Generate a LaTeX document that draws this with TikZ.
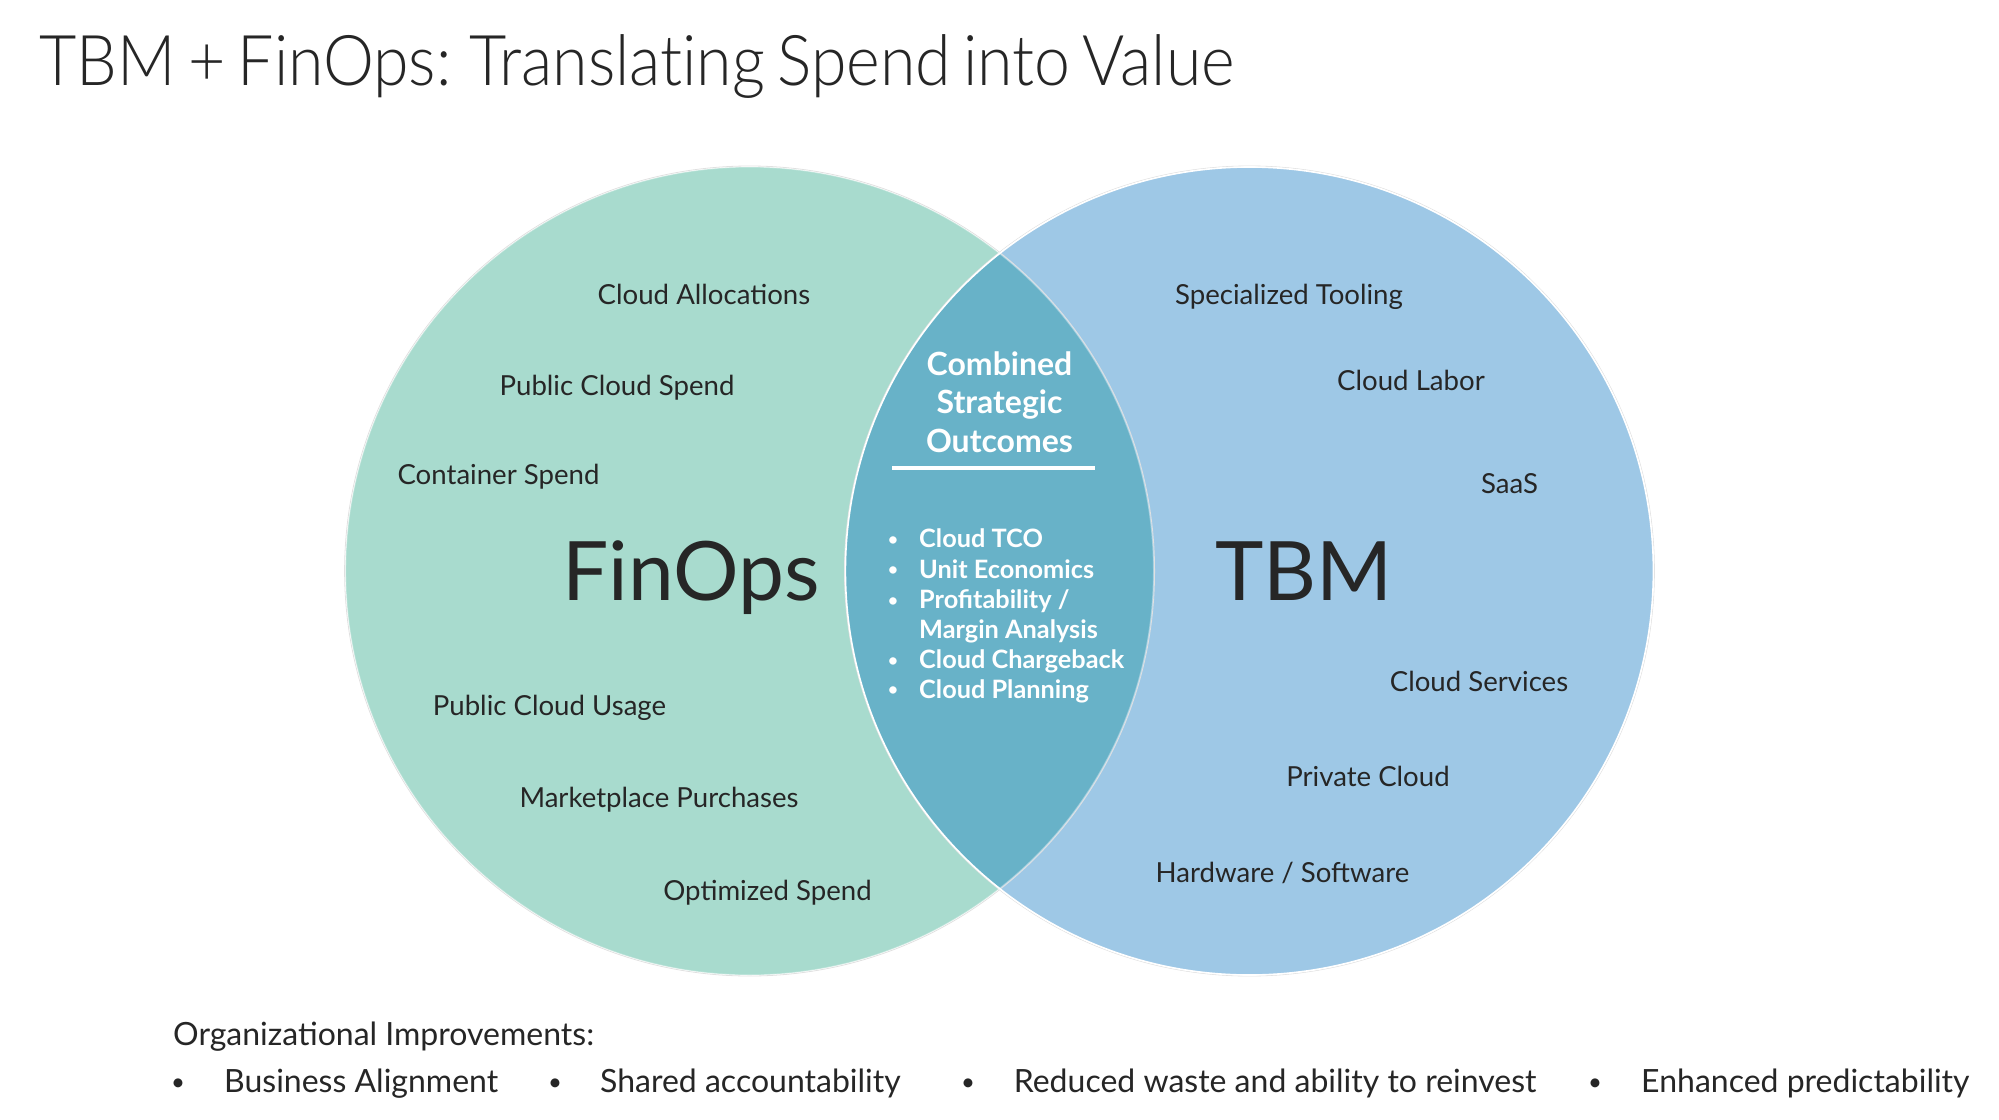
\documentclass[tikz,border=0pt]{standalone}
\usepackage{fontspec}
\setmainfont{Lato}
\newfontfamily\lightfont{Lato Light}[FakeStretch=0.92, Ligatures=NoCommon, WordSpace=0.7]
\definecolor{finops}{HTML}{A8DBCE}
\definecolor{tbm}{HTML}{9EC8E6}
\definecolor{both}{HTML}{68B2C8}
\definecolor{ink}{HTML}{262626}
\begin{document}
\begin{tikzpicture}[x=1pt,y=-1pt,
  item/.style={text=ink, font=\fontsize{27.6}{32}\selectfont, inner sep=0pt, anchor=base},
  bigname/.style={text=ink, font=\fontsize{82}{90}\selectfont, inner sep=0pt, anchor=base},
  head/.style={text=white, font=\bfseries\fontsize{32}{38}\selectfont, inner sep=0pt, anchor=base},
  outcome/.style={text=white, font=\bfseries\fontsize{25.3}{30}\selectfont, inner sep=0pt, anchor=base west},
  dot/.style={text=white, font=\bfseries\fontsize{17}{20}\selectfont, inner sep=0pt, anchor=base},
  foot/.style={text=ink, font=\fontsize{32}{38}\selectfont, inner sep=0pt, anchor=base west},
  footdot/.style={text=ink, font=\fontsize{24}{28}\selectfont, inner sep=0pt, anchor=base}]
\useasboundingbox (0,0) rectangle (1999,1119);
\fill[white] (0,0) rectangle (1999,1119);

% title
\node[anchor=base west, inner sep=0pt, text=ink, font=\lightfont\fontsize{70}{80}\selectfont] (title) at (39.5,85) {TBM + FinOps: Translating Spend into Value};

% the two sets and their overlap
\coordinate (cF) at (749.6,571);
\coordinate (cT) at (1249.4,571);
\fill[finops] (cF) circle[radius=404pt];
\fill[tbm] (cT) circle[radius=404pt];
\begin{scope}
  \clip (cF) circle[radius=404pt];
  \fill[both] (cT) circle[radius=404pt];
\end{scope}
\draw[black!12, line width=0.8pt] (cF) circle[radius=405pt];
\draw[black!12, line width=0.8pt] (cT) circle[radius=405pt];
\draw[white, line width=1.6pt] (cT) circle[radius=404pt];
\draw[white, opacity=0.35, line width=1.2pt] (cF) circle[radius=404pt];

% FinOps side
\node[item] (fa) at (704,304.5) {Cloud Allocations};
\node[item] (fb) at (617,395) {Public Cloud Spend};
\node[item] (fc) at (498.5,484) {Container Spend};
\node[bigname] (finops) at (691,600) {FinOps};
\node[item] (fd) at (549.5,715) {Public Cloud Usage};
\node[item] (fe) at (659,807) {Marketplace Purchases};
\node[item] (ff) at (767.5,900) {Optimized Spend};

% TBM side
\node[item] (ta) at (1289,304.5) {Specialized Tooling};
\node[item] (tb) at (1411,390) {Cloud Labor};
\node[item] (tc) at (1509.5,493) {SaaS};
\node[bigname] (tbm) at (1304,600) {TBM};
\node[item] (td) at (1479,691) {Cloud Services};
\node[item] (te) at (1368,786) {Private Cloud};
\node[item] (tf) at (1282.5,882) {Hardware / Software};

% overlap
\node[head] (h1) at (999.5,375) {Combined};
\node[head] (h2) at (999.5,413.5) {Strategic};
\node[head] (h3) at (999.5,452) {Outcomes};
\coordinate (ruleL) at (892,468);
\coordinate (ruleR) at (1095,468);
\draw[white, line width=3.5pt] (ruleL) -- (ruleR);

\foreach \y/\t [count=\i] in {538/{Cloud TCO}, 568.6/{Unit Economics}, 599/{Profitability /}, 659/{Cloud Chargeback}, 688.5/{Cloud Planning}}{
  \node[dot] (b\i) at (893,\y+7) {•};
  \node[outcome] (o\i) at (919,\y+9.5) {\t};
}
\node[outcome] (o6) at (919,638.5) {Margin Analysis};

% footer
\node[foot] (org) at (173,1045.5) {Organizational Improvements:};
\foreach \bx/\tx/\t [count=\i] in {178/224/{Business Alignment}, 555/600/{Shared accountability}, 968/1013.6/{Reduced waste and ability to reinvest}, 1595/1641/{Enhanced predictability}}{
  \node[footdot] (fb\i) at (\bx,1090) {•};
  \node[foot] (ft\i) at (\tx,1092.5) {\t};
}
\end{tikzpicture}
\end{document}
